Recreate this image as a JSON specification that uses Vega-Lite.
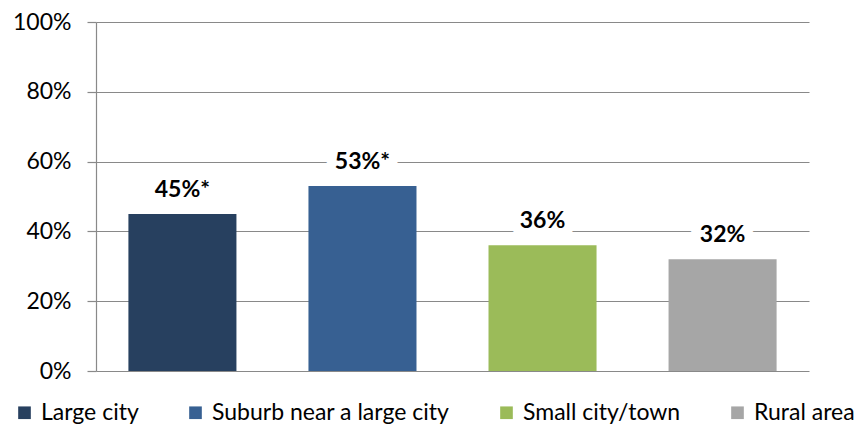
{
  "$schema": "https://vega.github.io/schema/vega-lite/v6.json",
  "width": 713,
  "height": 349,
  "autosize": "none",
  "padding": {"left": 96, "top": 22, "right": 58, "bottom": 54},
  "background": "white",
  "config": {
    "view": {"stroke": null},
    "font": "Lato"
  },
  "data": {
    "values": [
      {"area": "Large city", "pct": 0.45, "label": "45%*"},
      {"area": "Suburb near a large city", "pct": 0.53, "label": "53%*"},
      {"area": "Small city/town", "pct": 0.36, "label": "36%"},
      {"area": "Rural area", "pct": 0.32, "label": "32%"}
    ]
  },
  "encoding": {
    "x": {
      "field": "area",
      "type": "nominal",
      "sort": null,
      "axis": null,
      "scale": {"paddingInner": 0.4, "paddingOuter": 0.18}
    },
    "y": {
      "field": "pct",
      "type": "quantitative",
      "scale": {"domain": [0, 1]},
      "axis": {
        "format": ".0%",
        "values": [0, 0.2, 0.4, 0.6, 0.8, 1],
        "title": null,
        "grid": true,
        "gridColor": "#898989",
        "gridWidth": 1.2,
        "domainColor": "#898989",
        "domainWidth": 1.2,
        "tickColor": "#898989",
        "tickSize": 9,
        "tickWidth": 1.2,
        "labelFontSize": 23,
        "labelColor": "#000000",
        "labelPadding": 16,
        "labelFont": "Lato"
      }
    }
  },
  "layer": [
    {
      "mark": {"type": "bar"},
      "encoding": {
        "color": {
          "field": "area",
          "type": "nominal",
          "sort": null,
          "scale": {
            "domain": ["Large city", "Suburb near a large city", "Small city/town", "Rural area"],
            "range": ["#27405F", "#376092", "#9BBB59", "#A6A6A6"]
          },
          "legend": {
            "title": null,
            "orient": "none",
            "direction": "horizontal",
            "legendX": -83,
            "legendY": 379,
            "symbolType": "square",
            "symbolSize": 160,
            "symbolStrokeWidth": 0,
            "labelFontSize": 23,
            "labelColor": "#000000",
            "labelFont": "Lato",
            "labelOffset": 5,
            "columnPadding": 45,
            "labelLimit": 400
          }
        }
      }
    },
    {
      "mark": {"type": "text", "fontSize": 23, "fontWeight": "bold", "baseline": "alphabetic", "dy": -17, "stroke": "white", "strokeWidth": 20, "strokeJoin": "round", "fill": "white"},
      "encoding": {"text": {"field": "label"}}
    },
    {
      "mark": {"type": "text", "fontSize": 23, "fontWeight": "bold", "baseline": "alphabetic", "dy": -17, "color": "#000000"},
      "encoding": {"text": {"field": "label"}}
    }
  ]
}
